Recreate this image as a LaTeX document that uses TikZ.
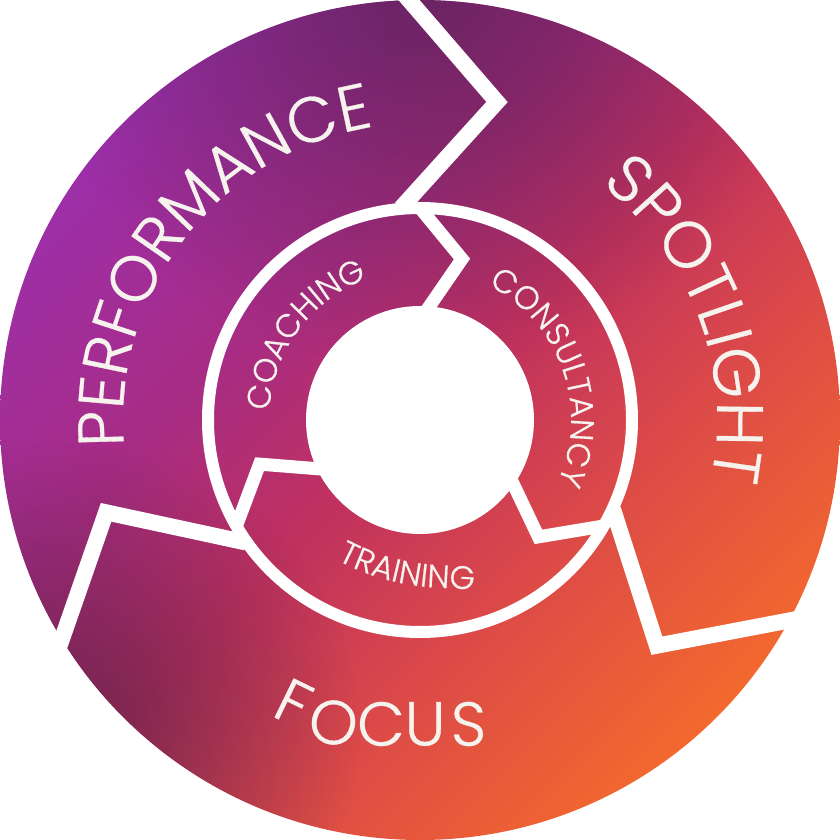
\documentclass[tikz,border=0pt]{standalone}
\usepackage{fontspec}
\newfontfamily\pfont{Poppins Light}[FakeBold=0.5]
\usetikzlibrary{decorations.text,fadings}
\definecolor{cviolet}{HTML}{9C2FAC}
\definecolor{cmag}{HTML}{A82C82}
\definecolor{ccrim}{HTML}{C0315E}
\definecolor{cred}{HTML}{DC4A48}
\definecolor{corange}{HTML}{F46A2C}
\definecolor{cplum}{HTML}{4A1E45}
\definecolor{txt}{HTML}{F6F2EE}
\pgfdeclarehorizontalshading{discgrad}{100bp}{color(0bp)=(cviolet); color(25bp)=(cviolet); color(40bp)=(cmag); color(50bp)=(ccrim); color(61bp)=(cred); color(75bp)=(corange); color(100bp)=(corange)}
\tikzfading[name=glowfade, inner color=transparent!35, outer color=transparent!100]
\tikzset{
  sep/.style={draw=white, line join=miter, miter limit=10},
  letter/.style={inner sep=0},
}
\newcommand\outerfmt{\pfont\fontsize{64}{64}\selectfont\color{txt}}
\newcommand\spotfmt{\pfont\fontsize{65.5}{65.5}\selectfont\color{txt}}
\newcommand\focusfmt{\pfont\fontsize{62}{62}\selectfont\color{txt}}
\newcommand\innerfmt{\pfont\fontsize{32.5}{32.5}\selectfont\color{txt}}
\begin{document}
\begin{tikzpicture}[x=1pt,y=1pt]
\useasboundingbox (-420,-420) rectangle (420,420);
\begin{scope}
  \clip (0,0) circle[radius=420];
  \shade[shading=discgrad, transform canvas={rotate=-45}] (-430,-430) rectangle (430,430);
  \fill[cplum, path fading=glowfade] (0,440) circle[radius=390];
  \fill[cplum, path fading=glowfade] (-350,-310) circle[radius=290];
\end{scope}
% ring
\draw[white, line width=12] (0,0) circle[radius=212];
% separators
\foreach \a in {0,-120,-240}{
  \begin{scope}[rotate=\a]
    \draw[sep, line width=16] (-30,442) -- (77,318) -- (-19,212);
    \draw[sep, line width=13] (0,212) -- (42,161) -- (0,100);
  \end{scope}
}
% centre disc
\fill[white] (0,0) circle[radius=114];
% outer texts
\path[decorate, decoration={text along path, text align=center, text={|\outerfmt|PERFORMANCE}}]
  (212:297) arc[start angle=212, end angle=72, radius=297];
\path[decorate, decoration={text along path, text align=center, text={|\spotfmt|SPOTLIGHT}}]
  (90:297) arc[start angle=90, end angle=-49, radius=297];
% FOCUS
\node[letter, rotate=-26] (f1) at (-126.5,-282.5) {\focusfmt F};
\node[letter, rotate=-12] (f2) at (-86.5,-302.5) {\focusfmt O};
\node[letter] (f3) at (-39,-304) {\focusfmt C};
\node[letter] (f4) at (5,-304) {\focusfmt U};
\node[letter] (f5) at (48.5,-304) {\focusfmt S};
% inner texts
\path[decorate, decoration={text along path, text align=center, text={|\innerfmt|COACHING}}]
  (213:151) arc[start angle=213, end angle=74, radius=151];
\path[decorate, decoration={text along path, text align=center, text={|\innerfmt|CONSULTANCY}}]
  (90:151) arc[start angle=90, end angle=-51, radius=151];
\path[decorate, decoration={text along path, text={|\innerfmt|TRAINING}}]
  (-83,-140) arc[start angle=-118, end angle=-93, radius=239] -- ++(-3:60);
\end{tikzpicture}
\end{document}
